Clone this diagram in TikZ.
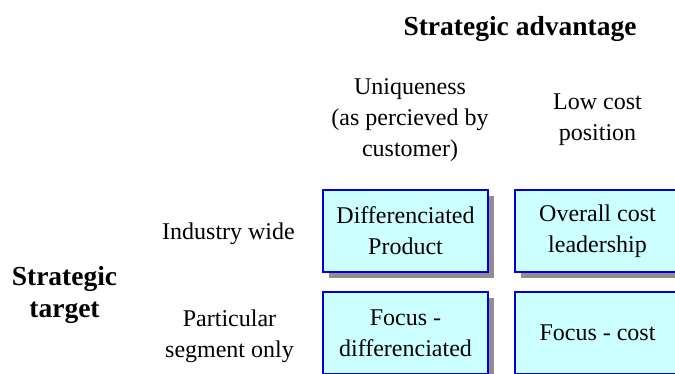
\documentclass[tikz,border=0pt]{standalone}
\usepackage{fontspec}
\setmainfont{Liberation Serif}
\usetikzlibrary{positioning,shadows}
\definecolor{mycyan}{RGB}{204,255,255}
\definecolor{myblue}{RGB}{0,0,225}
\definecolor{mygrey}{RGB}{150,140,140}
\tikzstyle{mylabel}=[align=center, font=\fontsize{24}{31}\selectfont, inner sep=0pt]
\tikzstyle{myheading}=[align=center, font=\fontsize{27.5}{32}\selectfont\bfseries, inner sep=0pt]
\tikzstyle{strategy}=[mylabel, rectangle, draw=myblue, line width=1.5pt, fill=mycyan, minimum width=165pt, minimum height=82pt, drop shadow={shadow xshift=6pt, shadow yshift=-6pt, fill=mygrey, opacity=1}]

\begin{document}
\begin{tikzpicture}[
    x=1pt, y=-1pt,
    on grid]

\clip (0,0) rectangle (675,374);

% the four strategies
\node[strategy] (diffprod) at (405.5,231) {Differenciated\\Product};
\node[strategy] (costlead) [right=192pt of diffprod] {Overall cost\\leadership};
\node[strategy] (focusdiff) [below=102pt of diffprod] {Focus -\\differenciated};
\node[strategy] (focuscost) [right=192pt of focusdiff] {Focus - cost};

% column headings
\node[myheading] (advantage) at (520,28.5) {Strategic advantage};
\node[mylabel] (unique) [above=111pt of diffprod, xshift=4.5pt] {Uniqueness\\(as percieved by\\customer)};
\node[mylabel] (lowcost) [above=111pt of costlead] {Low cost\\position};

% row headings
\node[myheading] (target) at (64.5,295) {Strategic\\target};
\node[mylabel] (industry) [left=177pt of diffprod, yshift=-3pt] {Industry wide};
\node[mylabel] (segment) [left=176pt of focusdiff, yshift=-3pt] {Particular\\segment only};

\end{tikzpicture}
\end{document}
